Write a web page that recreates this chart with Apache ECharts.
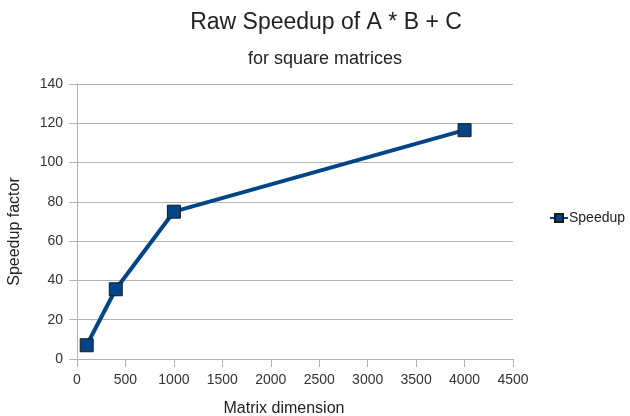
<!DOCTYPE html>
<html>
<head>
<meta charset="utf-8">
<script src="https://cdn.jsdelivr.net/npm/echarts@6/dist/echarts.min.js"></script>
<style>
  html, body { margin: 0; padding: 0; background: #fff; }
  #main { width: 630px; height: 416px; }
</style>
</head>
<body>
<div id="main"></div>
<script>
  // matrix dimension vs speedup
  var dims = [100, 400, 1000, 4000];
  var speedup = [7, 35.5, 75, 116.5];
  var seriesName = 'Speedup';

  var chart = echarts.init(document.getElementById('main'));
  var font = 'Liberation Sans, Arial, sans-serif';

  chart.setOption({
    animation: false,
    textStyle: { fontFamily: font },
    title: [{
      text: 'Raw Speedup of A * B + C',
      left: 321,
      top: 6,
      textAlign: 'center',
      textStyle: { fontSize: 23, fontWeight: 'normal', color: '#222', fontFamily: font }
    }, {
      text: 'for square matrices',
      left: 320,
      top: 45,
      textAlign: 'center',
      textStyle: { fontSize: 18, fontWeight: 'normal', color: '#222', fontFamily: font }
    }],
    legend: {
      data: [seriesName],
      orient: 'vertical',
      left: 544,
      top: 206,
      itemWidth: 18,
      itemHeight: 10,
      itemGap: 4,
      textStyle: { fontSize: 14, color: '#222', fontFamily: font, padding: [0, 0, 0, -4] }
    },
    grid: { left: 77, right: 117, top: 84, bottom: 57, outerBoundsMode: 'none' },
    xAxis: {
      type: 'value',
      min: 0,
      max: 4500,
      interval: 500,
      name: 'Matrix dimension',
      nameLocation: 'middle',
      nameGap: 42,
      nameTextStyle: { fontSize: 16, color: '#222', fontFamily: font, padding: [0, 22, 0, 0] },
      axisLine: { show: true, lineStyle: { color: '#b3b3b3' } },
      axisTick: { show: true, length: 8, lineStyle: { color: '#b3b3b3' } },
      axisLabel: {
        fontSize: 14, color: '#333', fontFamily: font, margin: 14,
        formatter: function (v) { return String(v); }
      },
      splitLine: { show: false }
    },
    yAxis: {
      type: 'value',
      min: 0,
      max: 140,
      interval: 20,
      name: 'Speedup factor',
      nameLocation: 'middle',
      nameGap: 54,
      nameTextStyle: { fontSize: 16, color: '#222', fontFamily: font, padding: [0, 20, 0, 0] },
      axisLine: { show: true, lineStyle: { color: '#b3b3b3' } },
      axisTick: { show: true, length: 8, lineStyle: { color: '#b3b3b3' } },
      axisLabel: { fontSize: 14, color: '#333', fontFamily: font, margin: 14 },
      splitLine: { show: true, lineStyle: { color: '#b3b3b3', width: 1 } }
    },
    series: [{
      name: seriesName,
      type: 'line',
      data: dims.map(function (d, i) { return [d, speedup[i]]; }),
      symbol: 'rect',
      symbolSize: 13,
      lineStyle: { color: '#004586', width: 4 },
      itemStyle: { color: '#004586', borderColor: '#1a1a1a', borderWidth: 1 }
    }]
  });
</script>
</body>
</html>
